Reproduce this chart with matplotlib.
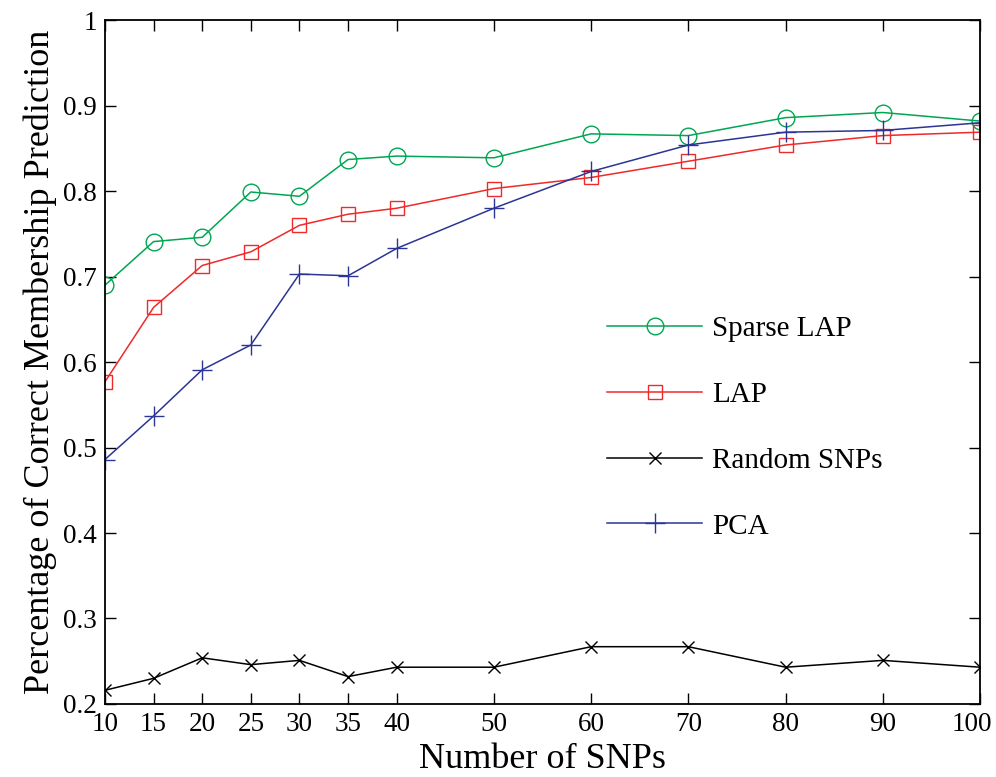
import matplotlib.pyplot as plt
from matplotlib.transforms import ScaledTranslation

plt.rcParams['font.family'] = ['Liberation Serif', 'DejaVu Serif']
plt.rcParams['mathtext.fontset'] = 'stix'

snps = [10, 15, 20, 25, 30, 35, 40, 50, 60, 70, 80, 90, 100]
sparse_lap = [0.690, 0.741, 0.746, 0.799, 0.794, 0.837, 0.841, 0.839, 0.867, 0.865, 0.886, 0.892, 0.882]
lap = [0.577, 0.664, 0.713, 0.729, 0.760, 0.773, 0.780, 0.803, 0.816, 0.835, 0.854, 0.865, 0.869]
random_snps = [0.216, 0.230, 0.254, 0.246, 0.251, 0.232, 0.243, 0.243, 0.267, 0.267, 0.243, 0.251, 0.243]
pca = [0.486, 0.537, 0.591, 0.620, 0.703, 0.701, 0.733, 0.780, 0.823, 0.854, 0.869, 0.871, 0.880]

fig = plt.figure(figsize=(9.96, 7.77), dpi=100)
ax = fig.add_axes([0.1054, 0.094, 0.8786, 0.880])

ax.plot(snps, sparse_lap, color='#00a651', marker='o', markersize=12, mfc='none', lw=1.1, label='Sparse LAP')
ax.plot(snps, lap, color='#ee2a2a', marker='s', markersize=10.5, mfc='none', lw=1.1, label='LAP')
ax.plot(snps, random_snps, color='black', marker='x', markersize=9, lw=1.1, label='Random SNPs')
ax.plot(snps, pca, color='#2b3595', marker='+', markersize=14, lw=1.1, label='PCA')

ax.set_xlim(10, 100)
ax.set_ylim(0.2, 1.0)
ax.set_xticks(snps)
ax.set_yticks([0.2, 0.3, 0.4, 0.5, 0.6, 0.7, 0.8, 0.9, 1.0])
ax.set_yticklabels(['0.2', '0.3', '0.4', '0.5', '0.6', '0.7', '0.8', '0.9', '1'])
ax.tick_params(direction='in', top=True, right=True, length=8, width=1, labelsize=19.5, pad=6)
for s in ax.spines.values():
    s.set_linewidth(1.3)

# last x label is nudged left so it stays inside the figure
last = ax.get_xticklabels()[-1]
last.set_transform(last.get_transform() + ScaledTranslation(-0.08, 0, fig.dpi_scale_trans))

ax.set_xlabel('Number of SNPs', fontsize=26, labelpad=4)
ax.set_ylabel('Percentage of Correct Membership Prediction', fontsize=26, labelpad=4)

ax.legend(loc='center left', bbox_to_anchor=(0.574, 0.404), frameon=False, fontsize=21,
          handlelength=3.25, labelspacing=1.35, borderpad=0, borderaxespad=0, handletextpad=0.35)

fig.savefig('out.png', dpi=100)
